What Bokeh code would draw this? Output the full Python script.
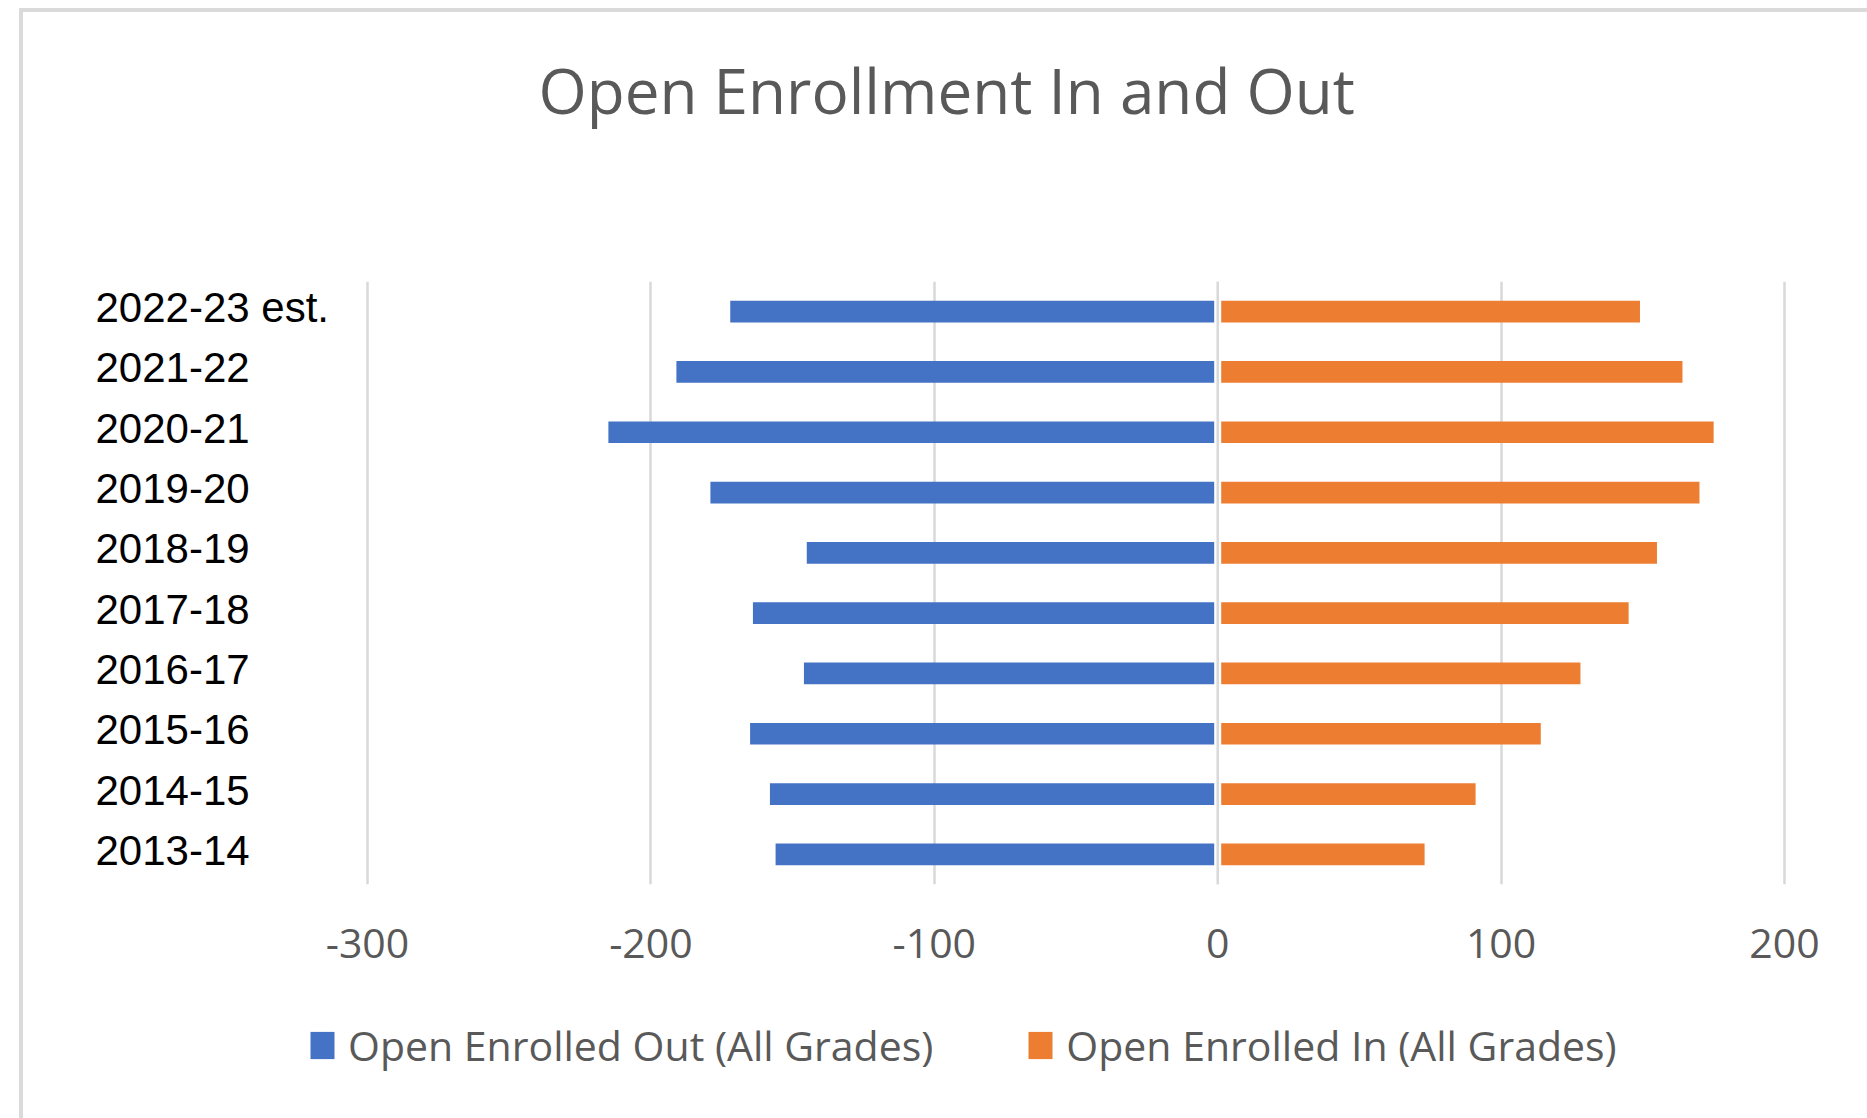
from bokeh.plotting import figure
from bokeh.layouts import column
from bokeh.models import (ColumnDataSource, FactorRange, Range1d, FixedTicker, Span,
                          Legend, LegendItem)
from bokeh.core.properties import value
from bokeh.embed import file_html
from bokeh.resources import INLINE

# ---- data (bottom to top, as drawn) ----
years = ["2013-14", "2014-15", "2015-16", "2016-17", "2017-18",
         "2018-19", "2019-20", "2020-21", "2021-22", "2022-23 est."]
enrolled_out = [-156, -158, -165, -146, -164, -145, -179, -215, -191, -172]
enrolled_in = [73, 91, 114, 128, 145, 155, 170, 175, 164, 149]
x_ticks = [-300, -200, -100, 0, 100, 200]
title_text = "Open Enrollment In and Out"
label_out = "Open Enrolled Out (All Grades)"
label_in = "Open Enrolled In (All Grades)"

BLUE, ORANGE, GRID, TXT = "#4472C4", "#ED7D31", "#d9d9d9", "#595959"

# ---- layout geometry (page pixels) ----
OX, OY = 23, 12                    # content origin inside page (after border)
W = 1867 - OX
Y_TITLE_END, Y_MAIN_END = 212, 990  # page y where the title / main figures end
H1, H2, H3 = Y_TITLE_END - OY, Y_MAIN_END - Y_TITLE_END, 1118 - Y_MAIN_END
FRAME_L, FRAME_R, FRAME_T, FRAME_B = 80, 1787, 281, 884
PX_M300, PX_200 = 367, 1784
ppu = (PX_200 - PX_M300) / 500.0
x_start = -300 - (PX_M300 - FRAME_L) / ppu
x_end = 200 + (FRAME_R - PX_200) / ppu


def bare(fig):
    fig.outline_line_color = None
    fig.background_fill_color = "white"
    fig.border_fill_color = "white"
    for g in fig.grid:
        g.visible = False


src = ColumnDataSource(dict(year=years, out=enrolled_out, inn=enrolled_in))

# ---- title figure (frame aligned with main frame by the column) ----
tf = figure(width=W, height=H1, output_backend="svg", toolbar_location=None,
            x_axis_location=None, y_axis_location=None,
            min_border_left=FRAME_L - OX, min_border_right=1867 - FRAME_R,
            min_border_top=0, min_border_bottom=0)
bare(tf)
tf.title.text = title_text
tf.title.align = "left"
tf.title.offset = 538 - FRAME_L
tf.title.standoff = 66
tf.title.text_font = "Open Sans"
tf.title.text_font_size = "62px"
tf.title.text_font_style = "normal"
tf.title.text_color = TXT

# ---- main figure ----
p = figure(width=W, height=H2, output_backend="svg", toolbar_location=None,
           y_range=FactorRange(factors=years, range_padding=0),
           x_range=Range1d(x_start, x_end),
           y_axis_location=None,
           min_border_left=FRAME_L - OX, min_border_right=1867 - FRAME_R,
           min_border_top=FRAME_T - Y_TITLE_END, min_border_bottom=Y_MAIN_END - FRAME_B)
p.outline_line_color = None
p.background_fill_color = "white"
p.border_fill_color = "white"

r_out = p.hbar(y="year", left=0, right="out", height=0.36, source=src,
               fill_color=BLUE, line_color=None)
r_in = p.hbar(y="year", left=0, right="inn", height=0.36, source=src,
              fill_color=ORANGE, line_color=None)

# zero axis line
p.add_layout(Span(location=0, dimension="height", line_color="white", line_width=7))
p.add_layout(Span(location=0, dimension="height", line_color=GRID, line_width=2.5))

# grid
p.ygrid.grid_line_color = None
p.xgrid.ticker = FixedTicker(ticks=x_ticks)
p.xgrid.grid_line_color = GRID
p.xgrid.grid_line_width = 2.5

# x axis
ax = p.xaxis[0]
ax.ticker = FixedTicker(ticks=x_ticks)
ax.major_label_overrides = {t: str(t) for t in x_ticks}
ax.axis_line_color = None
ax.major_tick_line_color = None
ax.minor_tick_line_color = None
ax.major_tick_out = 0
ax.major_tick_in = 0
ax.major_label_standoff = 44
ax.major_label_text_font = "Open Sans"
ax.major_label_text_font_size = "41px"
ax.major_label_text_color = TXT

# category labels, left aligned
p.text(x=x_start, y="year", text="year", source=src, x_offset=95 - FRAME_L, y_offset=-4,
       text_font=value("Liberation Sans"), text_font_size="42px",
       text_color="black", text_align="left", text_baseline="middle")

# ---- legend figure (same series with zero-height bars; only the legend shows) ----
lf = figure(width=W, height=H3, output_backend="svg", toolbar_location=None,
            x_axis_location=None, y_axis_location=None,
            x_range=Range1d(1000, 2000), y_range=FactorRange(factors=years),
            min_border_left=FRAME_L - OX, min_border_right=1867 - FRAME_R,
            min_border_top=0, min_border_bottom=0)
bare(lf)
l_out = lf.hbar(y="year", left=0, right="out", height=0, source=src,
                fill_color=BLUE, line_color=None)
l_in = lf.hbar(y="year", left=0, right="inn", height=0, source=src,
               fill_color=ORANGE, line_color=None)
legend = Legend(items=[LegendItem(label=label_out, renderers=[l_out]),
                       LegendItem(label=label_in, renderers=[l_in])],
                orientation="horizontal",
                location=(307 - FRAME_L, H3 - (1073 - Y_MAIN_END)),
                glyph_width=30, glyph_height=34, label_standoff=11, spacing=92,
                padding=0, margin=0, border_line_color=None,
                background_fill_alpha=0,
                label_text_font="Open Sans", label_text_font_size="41px",
                label_text_color=TXT)
lf.add_layout(legend, "center")

layout = column(tf, p, lf, spacing=0)
layout.margin = (OY - 4, 0, 0, OX - 4)
layout.styles = {"border-left": "4px solid #dadada", "border-top": "4px solid #dadada"}

open("out.html", "w").write(file_html(layout, INLINE))
